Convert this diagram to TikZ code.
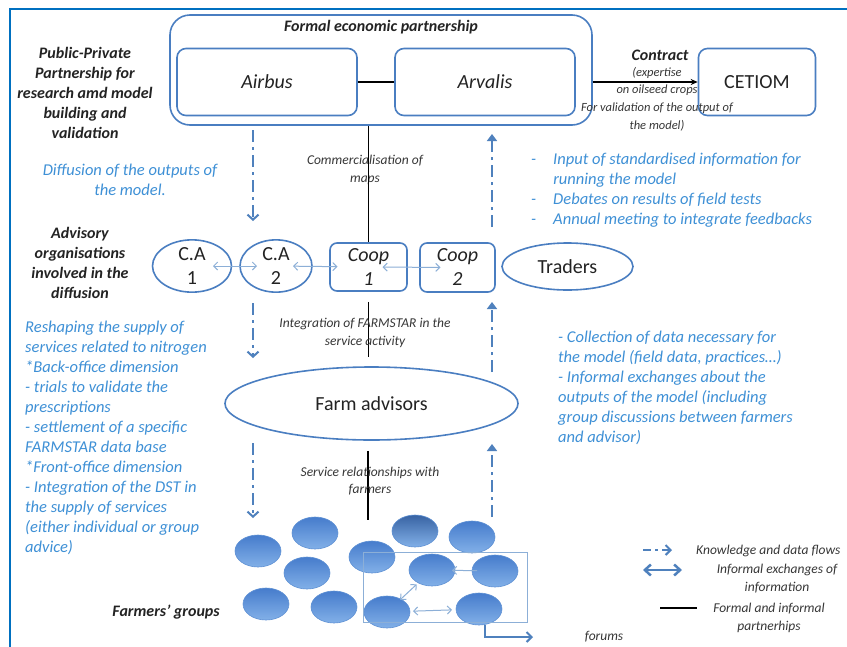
\documentclass[tikz,border=0pt]{standalone}
\usepackage{fontspec}
\setmainfont{Carlito}
\usetikzlibrary{shapes.geometric,arrows.meta,calc}
\definecolor{boxblue}{RGB}{74,126,193}
\definecolor{txtblue}{RGB}{62,144,214}
\definecolor{framec}{RGB}{0,112,192}
\definecolor{flowblue}{RGB}{79,129,189}
\definecolor{lightarr}{RGB}{140,175,215}
\definecolor{fTop}{RGB}{70,124,204}
\definecolor{fBot}{RGB}{130,176,232}
\definecolor{fEdge}{RGB}{95,145,212}
\definecolor{darktxt}{RGB}{35,35,35}
\definecolor{graytxt}{RGB}{55,55,55}
\tikzset{
  bx/.style={draw=boxblue, line width=1.6pt, rounded corners=9pt, inner sep=0pt, text=darktxt},
  ell/.style={draw=boxblue, line width=1.6pt, ellipse, inner sep=0pt, text=darktxt},
  bigtxt/.style={font=\fontsize{20}{24}\selectfont, align=center},
  bigit/.style={font=\fontsize{20}{24}\selectfont\itshape, align=center},
  farmer/.style={ellipse, minimum width=46pt, minimum height=32pt, top color=fTop, bottom color=fBot, draw=fEdge, line width=0.6pt},
  lbl/.style={font=\fontsize{16}{20}\selectfont\bfseries\itshape, align=center, text=darktxt, inner sep=0pt},
  bluetxt/.style={font=\fontsize{16.5}{20}\selectfont\itshape, text=txtblue, inner sep=0pt},
  smalltxt/.style={font=\fontsize{13.5}{17.5}\selectfont\itshape, text=graytxt, align=center, inner sep=0pt},
  legtxt/.style={font=\fontsize{13.5}{18}\selectfont\itshape, text=graytxt, align=center, inner sep=0pt},
  flow/.style={draw=flowblue, line width=2.5pt, dash pattern=on 12pt off 5pt on 3pt off 5pt},
  flowdown/.style={flow, -{Straight Barb[length=5pt,width=11pt,line width=2pt]}},
  flowup/.style={flow, -{Triangle[length=7pt,width=10pt]}},
  formal/.style={draw=black, line width=1.6pt},
  informal/.style={draw=lightarr, line width=1pt, {Straight Barb[length=4pt,width=8pt]}-{Straight Barb[length=4pt,width=8pt]}},
  informalone/.style={draw=lightarr, line width=1pt, -{Straight Barb[length=4pt,width=8pt]}}
}
\begin{document}
\begin{tikzpicture}[x=1pt,y=-1pt]
\useasboundingbox (0,0) rectangle (847,646);
\fill[white] (0,0) rectangle (847,646);
% frame
\draw[framec, line width=2pt] (10,652) -- (10,9) -- (852,9);

% partnership
\node[bx, rounded corners=20pt, minimum width=422pt, minimum height=110pt] (fep) at (381,70) {};
\node[lbl] (feptitle) at (381,27) {Formal economic partnership};
\node[bx, bigit, minimum width=180pt, minimum height=67pt] (airbus) at (267,82) {Airbus};
\node[bx, bigit, minimum width=180pt, minimum height=67pt] (arvalis) at (485,82) {Arvalis};
\node[bx, bigtxt, minimum width=117pt, minimum height=67pt] (cetiom) at (757,82) {CETIOM};
\draw[formal] (airbus.east) -- (arvalis.west);
\draw[formal, line width=1.4pt, -{Stealth[length=7pt,width=6pt]}] (arvalis.east -| fep.east) -- (cetiom.west);
\node[lbl] (contract) at (660,55) {Contract};
\node[smalltxt, font=\fontsize{12.5}{17.7}\selectfont\itshape] (contractnote) at (657,99) {(expertise\\on oilseed crops\\For validation of the output of\\the model)};

% left labels
\node[lbl] (ppp) at (85,93) {Public-Private\\Partnership for\\research amd model\\building and\\validation};
\node[bluetxt, align=center] (diffusion) at (130,180) {Diffusion of the outputs of\\the model.};
\node[smalltxt] (commerc) at (365,170) {Commercialisation of\\maps};
\node[bluetxt, anchor=west] (inputs) at (531,190) {\begin{tabular}{@{}l@{\hspace{17pt}}l@{}}
-&Input of standardised information for\\
&running the model\\
-&Debates on results of field tests\\
-&Annual meeting to integrate feedbacks
\end{tabular}};

% advisory row
\node[lbl] (advisory) at (80,263) {Advisory\\organisations\\involved in the\\diffusion};
\node[ell, bigtxt, minimum width=79pt, minimum height=50pt] (ca1) at (192,266) {C.A\\1};
\node[ell, bigtxt, minimum width=72pt, minimum height=50pt] (ca2) at (276,266) {C.A\\2};
\node[bx, bigit, minimum width=77pt, minimum height=48pt, rounded corners=7pt] (coop1) at (368.5,267) {Coop\\1};
\node[bx, bigit, minimum width=75pt, minimum height=49pt, rounded corners=7pt] (coop2) at (457.5,267.5) {Coop\\2};
\node[ell, bigtxt, minimum width=131pt, minimum height=47pt] (traders) at (567.5,266.5) {Traders};
\draw[informal, shorten <=21pt, shorten >=19pt] (ca1.center) -- (ca2.center);
\draw[informal, shorten <=17pt, shorten >=31pt] (ca2.center) -- (coop1.center);
\draw[informal, shorten <=14pt, shorten >=17pt] (coop1.center) -- (coop2.center);

% links partnership -> advisory
\coordinate (d1s) at (253,130);
\coordinate (d1e) at (253,221);
\coordinate (u1s) at (492,227);
\coordinate (u1e) at (492,134);
\draw[flowdown] (d1s) -- (d1e);
\draw[flowup] (u1s) -- (u1e);
\draw[formal] (fep.south -| coop1.north) -- (coop1.north);

% farm advisors
\node[ell, bigtxt, minimum width=293pt, minimum height=73pt] (farm) at (371.5,403.5) {Farm advisors};
\coordinate (d2s) at (253,303);
\coordinate (d2e) at (253,358);
\coordinate (u2s) at (492,372);
\coordinate (u2e) at (492,302);
\draw[flowdown] (d2s) -- (d2e);
\draw[flowup] (u2s) -- (u2e);
\draw[formal, shorten <=10pt, shorten >=9pt] (coop1.south) -- (coop1.south |- farm.north);
\node[smalltxt] (integ) at (365,333) {Integration of FARMSTAR in the\\service activity};

\node[bluetxt, align=left, anchor=west] (reshape) at (25,437.5) {Reshaping the supply of\\services related to nitrogen\\*Back-office dimension\\- trials to validate the\\prescriptions\\- settlement of a specific\\FARMSTAR data base\\*Front-office dimension\\- Integration of the DST in\\the supply of services\\(either individual or group\\advice)};
\node[bluetxt, align=left, anchor=west] (collect) at (558,388) {- Collection of data necessary for\\the model (field data, practices\ldots)\\- Informal exchanges about the\\outputs of the model (including\\group discussions between farmers\\and advisor)};

% farm advisors -> farmers
\coordinate (d3s) at (253,443);
\coordinate (d3e) at (253,518);
\coordinate (u3s) at (492,517);
\coordinate (u3e) at (492,444);
\draw[flowdown] (d3s) -- (d3e);
\draw[flowup] (u3s) -- (u3e);
\coordinate (servend) at (368,520);
\draw[formal, shorten <=10pt] (farm.south -| servend) -- (servend);
\node[smalltxt] (service) at (370,481) {Service relationships with\\farmers};

% farmers
\node[farmer] (f1) at (258,551) {};
\node[farmer] (f2) at (315,533) {};
\node[farmer] (f3) at (307,573) {};
\node[farmer] (f4) at (266,604) {};
\node[farmer] (f5) at (334,607) {};
\node[farmer] (f6) at (372,557) {};
\node[farmer, top color=fTop!80!black] (f7) at (415,531) {};
\node[farmer] (f8) at (472,537) {};
\node[farmer] (f9) at (432,570) {};
\node[farmer] (f10) at (495,571) {};
\node[farmer] (f11) at (387,612) {};
\node[farmer] (f12) at (479,609) {};
\node[draw=lightarr, line width=1pt, minimum width=164pt, minimum height=70pt, inner sep=0pt] (forumbox) at (445,587) {};
\draw[informalone, shorten <=18pt, shorten >=20pt] (f10.center) -- (f9.center);
\draw[informal, shorten <=21pt, shorten >=18pt] (f9.center) -- (f11.center);
\draw[informal, shorten <=26pt, shorten >=27pt] (f11.center) -- (f12.center);
\coordinate (fend) at (533,637);
\draw[flowblue, line width=2pt, -{Straight Barb[length=5pt,width=10pt]}] (f12.-70) |- (fend);
\node[legtxt] (forums) at (604,637) {forums};
\node[lbl] (fgroups) at (166,612) {Farmers' groups};

% legend
\coordinate (k1) at (643,550);
\coordinate (k2) at (672,550);
\draw[flow, dash pattern=on 8pt off 4pt on 3pt off 4pt, -{Straight Barb[length=5pt,width=10pt,line width=2pt]}] (k1) -- (k2);
\node[legtxt, anchor=west] (ktxt) at (696,551) {Knowledge and data flows};
\coordinate (i1) at (643,570);
\coordinate (i2) at (682,570);
\draw[flowblue, line width=2.5pt, {Straight Barb[length=6pt,width=11pt]}-{Straight Barb[length=6pt,width=11pt]}] (i1) -- (i2);
\node[legtxt] (itxt) at (777,579) {Informal exchanges of\\information};
\coordinate (p1) at (660,608);
\coordinate (p2) at (697,608);
\draw[formal, line width=2.5pt] (p1) -- (p2);
\node[legtxt] (ptxt) at (769,618) {Formal and informal\\partnerhips};
\end{tikzpicture}
\end{document}
